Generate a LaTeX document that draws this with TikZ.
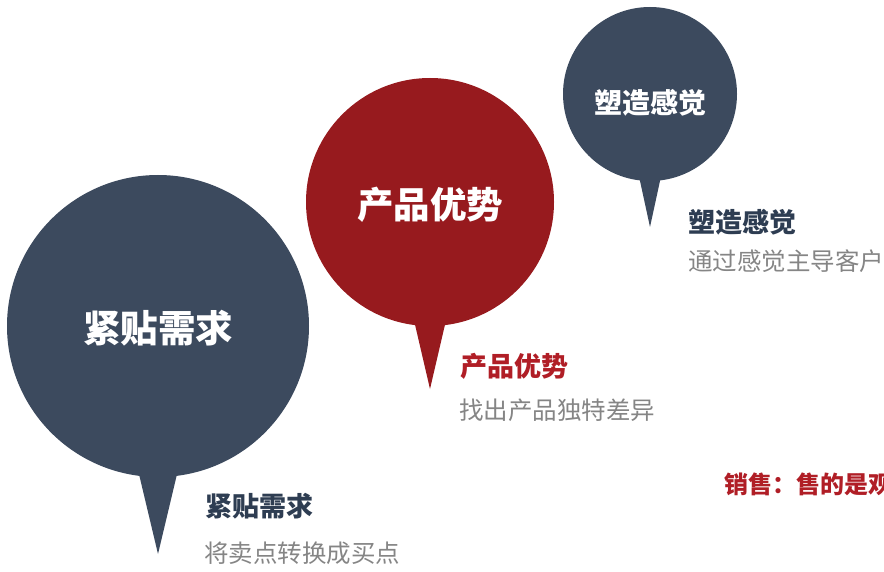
\documentclass[tikz,border=0pt]{standalone}
\usepackage{fontspec}
\usetikzlibrary{calc}
\newfontfamily\cjk{Noto Sans CJK SC}
\newcommand{\cjkb}{\cjk\bfseries}
\definecolor{navy}{HTML}{3C4A5E}
\definecolor{navytxt}{HTML}{2E3D52}
\definecolor{bred}{HTML}{971A1E}
\definecolor{lred}{HTML}{B01E26}
\definecolor{gtxt}{HTML}{858585}
\tikzset{
  bubble/.style={circle,inner sep=0pt,text=white},
  intxt/.style={inner sep=0pt,text=white},
  headtxt/.style={anchor=west,inner sep=0pt,font=\cjkb\fontsize{27}{30}\selectfont},
  subtxt/.style={anchor=west,inner sep=0pt,text=gtxt,font=\cjk\fontsize{24.5}{27}\selectfont},
}
\begin{document}
\begin{tikzpicture}[x=1pt,y=-1pt]
\useasboundingbox (0,0) rectangle (884,572);
% big bubble
\node[bubble,fill=navy,minimum size=302pt] (b1) at (158,326) {};
\coordinate (t1) at (158,554);
\fill[navy] ($(b1.center)+(-20,144)$) -- ($(b1.center)+(20,144)$) -- (t1) -- cycle;
\node[intxt,font=\cjkb\fontsize{37.5}{40}\selectfont] (c1) at ($(b1.center)+(0,2)$) {紧贴需求};
% red bubble
\node[bubble,fill=bred,minimum size=248pt] (b2) at (430,202) {};
\coordinate (t2) at (430,389);
\fill[bred] ($(b2.center)+(-17,114)$) -- ($(b2.center)+(17,114)$) -- (t2) -- cycle;
\node[intxt,font=\cjkb\fontsize{36.5}{40}\selectfont] (c2) at ($(b2.center)+(0,3)$) {产品优势};
% small bubble
\node[bubble,fill=navy,minimum size=174pt] (b3) at (650,94) {};
\coordinate (t3) at (650,227);
\fill[navy] ($(b3.center)+(-11.5,80)$) -- ($(b3.center)+(11.5,80)$) -- (t3) -- cycle;
\node[intxt,font=\cjkb\fontsize{28}{30}\selectfont] (c3) at ($(b3.center)+(0,9)$) {塑造感觉};
% labels
\node[headtxt,text=navytxt] (h3) at (688,222) {塑造感觉};
\node[subtxt] (s3) at (688,261) {通过感觉主导客户};
\node[headtxt,text=lred] (h2) at (460,366) {产品优势};
\node[subtxt] (s2) at (459,410) {找出产品独特差异};
\node[headtxt,text=navytxt] (h1) at (205,506) {紧贴需求};
\node[subtxt] (s1) at (204,553) {将卖点转换成买点};
\node[headtxt,text=lred,font=\cjkb\fontsize{24}{27}\selectfont] (sale) at (724,484) {销售：售的是观};
\end{tikzpicture}
\end{document}
